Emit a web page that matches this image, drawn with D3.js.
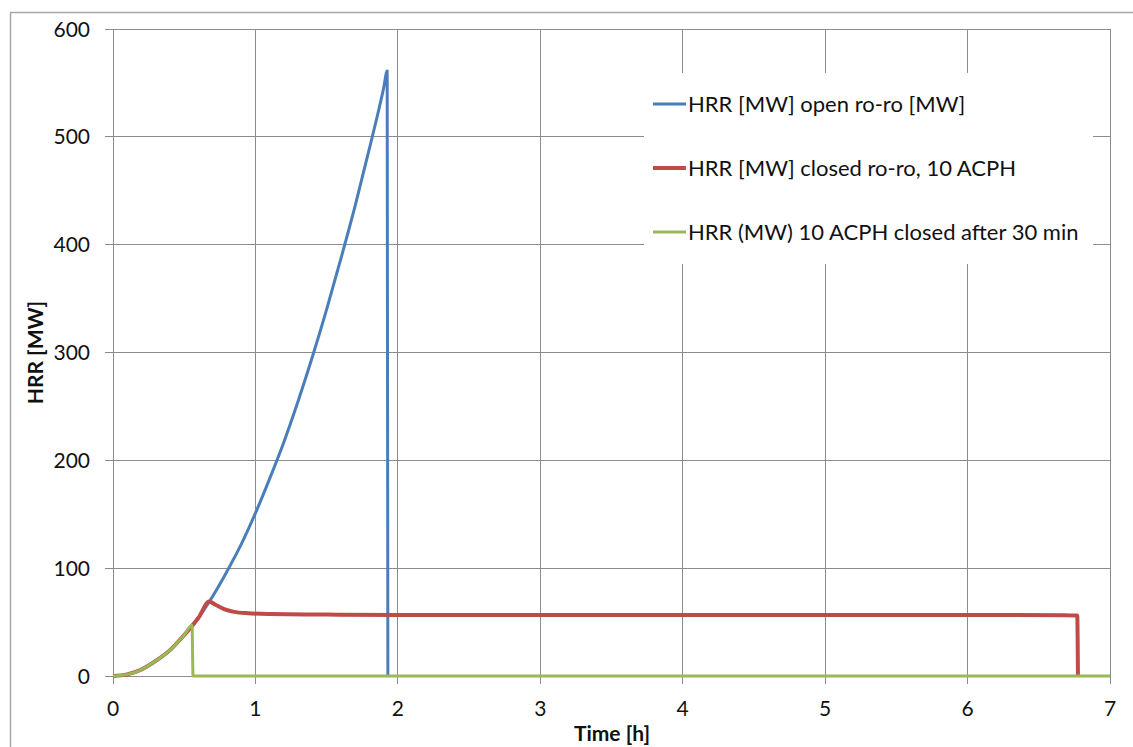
<!DOCTYPE html>
<html lang="en">
<head>
<meta charset="utf-8" />
<title>HRR</title>
<script src="https://d3js.org/d3.v7.min.js"></script>
<style>
  body { margin: 0; background: #fff; }
  svg { display: block; font-family: Lato, "Open Sans", sans-serif; }
</style>
</head>
<body>
<div id="root"></div>
<script>
// series (time in hours, HRR in MW)
const openTime  = [0, 0.1, 0.2, 0.3, 0.4, 0.5, 0.6, 0.7, 0.8, 0.9, 1.0, 1.1, 1.2, 1.3, 1.4, 1.5, 1.6, 1.7, 1.8, 1.9, 1.925, 1.93];
const openHRR   = [0, 1.5, 6, 14, 24, 38, 54, 74, 97, 122, 151, 183, 217, 255, 296, 340, 387, 436, 489, 545, 561, 0];

const closedTime = [0, 0.1, 0.2, 0.3, 0.4, 0.5, 0.6, 0.675, 0.72, 0.78, 0.85, 0.95, 1.1, 1.5, 2.0, 3, 4, 5, 6, 6.68, 6.77, 6.775];
const closedHRR  = [0, 1.5, 6, 14, 24, 38, 54, 69, 66, 62, 59.5, 58.2, 57.5, 57, 56.6, 56.6, 56.6, 56.6, 56.6, 56.4, 56, 0];

const after30Time = [0, 0.1, 0.2, 0.3, 0.4, 0.5, 0.555, 0.562, 7];
const after30HRR  = [0, 1.5, 6, 14, 24, 38, 47, 0, 0];

const seriesNames = [
  "HRR [MW] open ro-ro [MW]",
  "HRR [MW] closed ro-ro, 10 ACPH",
  "HRR (MW) 10 ACPH closed after 30 min"
];
const seriesColors = ["#4a7ebb", "#be4b48", "#98b954"];

const xTicks = [0, 1, 2, 3, 4, 5, 6, 7];
const yTicks = [0, 100, 200, 300, 400, 500, 600];

const width = 1133, height = 747;
const margin = {top: 29, right: 23, bottom: 71, left: 113};

const series = [
  openTime.map((t, i) => ({t, v: openHRR[i]})),
  closedTime.map((t, i) => ({t, v: closedHRR[i]})),
  after30Time.map((t, i) => ({t, v: after30HRR[i]}))
];

const x = d3.scaleLinear().domain([0, 7]).range([margin.left, width - margin.right]);
const y = d3.scaleLinear().domain([0, 600]).range([height - margin.bottom, margin.top]);

const svg = d3.select("#root").append("svg")
    .attr("width", width)
    .attr("height", height);

// outer chart border
svg.append("rect")
    .attr("x", 10.5).attr("y", 12.5)
    .attr("width", width + 20).attr("height", height + 20)
    .attr("fill", "none")
    .attr("stroke", "#a6a6a6")
    .attr("stroke-width", 1.5);

const grid = svg.append("g").attr("stroke", "#8c8c8c").attr("stroke-width", 1).attr("shape-rendering", "crispEdges");

grid.selectAll("line.h")
  .data(yTicks)
  .join("line")
    .attr("class", "h")
    .attr("x1", margin.left - 8).attr("x2", width - margin.right)
    .attr("y1", d => y(d)).attr("y2", d => y(d));

grid.selectAll("line.v")
  .data(xTicks)
  .join("line")
    .attr("class", "v")
    .attr("x1", d => x(d)).attr("x2", d => x(d))
    .attr("y1", margin.top).attr("y2", height - margin.bottom + 8);

// tick labels
svg.append("g")
    .attr("font-size", 21)
    .attr("fill", "#111")
    .attr("text-anchor", "end")
  .selectAll("text")
  .data(yTicks)
  .join("text")
    .attr("x", margin.left - 23)
    .attr("y", d => y(d))
    .attr("dy", "0.36em")
    .text(d => d);

svg.append("g")
    .attr("font-size", 21)
    .attr("fill", "#111")
    .attr("text-anchor", "middle")
  .selectAll("text")
  .data(xTicks)
  .join("text")
    .attr("x", d => x(d))
    .attr("y", height - margin.bottom + 32)
    .attr("dy", "0.36em")
    .text(d => d);

// axis titles
svg.append("text")
    .attr("transform", `translate(35,${(y(0) + y(600)) / 2}) rotate(-90)`)
    .attr("text-anchor", "middle")
    .attr("dy", "0.36em")
    .attr("font-size", 21)
    .attr("font-weight", "bold")
    .attr("fill", "#111")
    .text("HRR [MW]");

svg.append("text")
    .attr("x", 612)
    .attr("y", 733)
    .attr("text-anchor", "middle")
    .attr("dy", "0.36em")
    .attr("font-size", 21)
    .attr("font-weight", "bold")
    .attr("fill", "#111")
    .text("Time [h]");

// lines
const line = d3.line().x(d => x(d.t)).y(d => y(d.v)).curve(d3.curveMonotoneX);
const widths = [3, 4, 3];

svg.append("g")
    .attr("fill", "none")
    .attr("stroke-linejoin", "round")
  .selectAll("path")
  .data(series)
  .join("path")
    .attr("stroke", (d, i) => seriesColors[i])
    .attr("stroke-width", (d, i) => widths[i])
    .attr("d", line);

// legend
const legend = svg.append("g");
legend.append("rect")
    .attr("x", 644).attr("y", 73)
    .attr("width", 449).attr("height", 191)
    .attr("fill", "#fff");

const rows = legend.selectAll("g")
  .data(seriesNames)
  .join("g")
    .attr("transform", (d, i) => `translate(653,${104 + i * 64})`);

rows.append("line")
    .attr("x1", 0).attr("x2", 33)
    .attr("stroke", (d, i) => seriesColors[i])
    .attr("stroke-width", (d, i) => widths[i]);

rows.append("text")
    .attr("x", 35)
    .attr("dy", "0.36em")
    .attr("font-size", 22)
    .attr("fill", "#111")
    .text(d => d);
</script>
</body>
</html>
